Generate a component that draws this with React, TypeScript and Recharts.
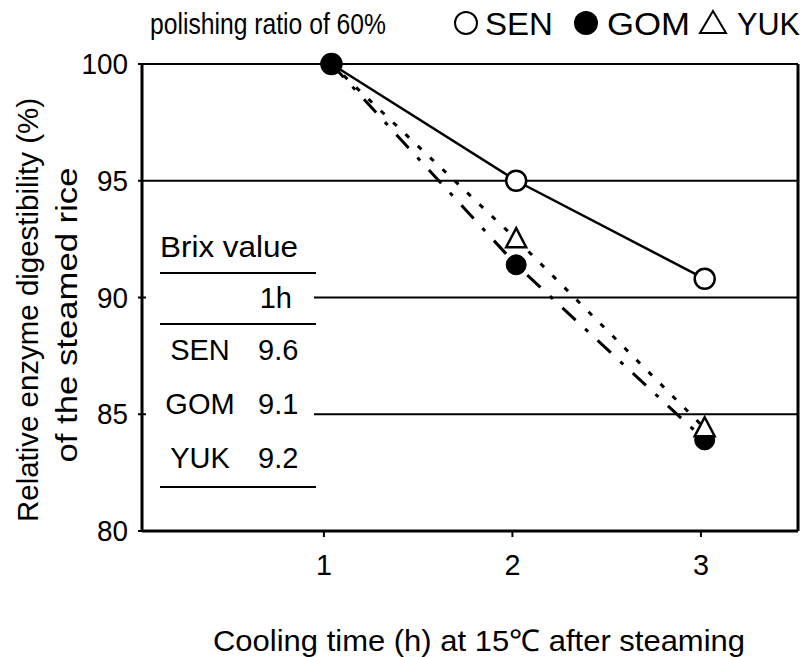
import { LineChart, Line, XAxis, YAxis, CartesianGrid, ReferenceLine } from "recharts";

// cooling time (h); markers sit a little right of the ticks in the original
const hours = [1.04, 2.02, 3.02];
const senValues = [100, 95.0, 90.8];
const gomValues = [100, 91.4, 83.9];
const yukValues = [100, 92.5, 84.4];

const xTicks = [1, 2, 3];
const yTicks = [80, 85, 90, 95, 100];

const brixRows = [
  { name: "SEN", value: "9.6" },
  { name: "GOM", value: "9.1" },
  { name: "YUK", value: "9.2" },
];

const data = hours.map((h, i) => ({
  h,
  sen: senValues[i],
  gom: gomValues[i],
  yuk: yukValues[i],
}));

const FONT = '"Liberation Sans", Arial, sans-serif';

const OpenCircle = (p: any) => (
  <circle key={`s${p.index}`} cx={p.cx} cy={p.cy} r={10} fill="#fff" stroke="#000" strokeWidth={2.5} />
);
const FilledCircle = (p: any) => (
  <circle key={`g${p.index}`} cx={p.cx} cy={p.cy} r={10} fill="#000" stroke="#000" strokeWidth={1} />
);
const Triangle = (p: any) => {
  // first YUK point is hidden under the GOM marker in the original
  if (p.index === 0) return <g key={`y${p.index}`} />;
  const { cx, cy } = p;
  return (
    <path
      key={`y${p.index}`}
      d={`M${cx},${cy - 11} L${cx + 10},${cy + 8} L${cx - 10},${cy + 8} Z`}
      fill="#fff"
      stroke="#000"
      strokeWidth={2.5}
    />
  );
};

// the original's lettering is a bit taller than Liberation Sans at the same width
const XTick = (p: any) => (
  <text x={p.x} y={p.y + 22} fontSize={30} textLength={16} lengthAdjust="spacingAndGlyphs" textAnchor="middle" fill="#000">
    {p.payload.value}
  </text>
);
const YTick = (p: any) => {
  const s = String(p.payload.value);
  return (
    <text x={p.x} y={p.y + 10} fontSize={29} textLength={s.length * 15.5} lengthAdjust="spacingAndGlyphs" textAnchor="end" fill="#000">
      {s}
    </text>
  );
};

const YLabel = () => (
  <g fontSize={30} fill="#000">
    <text x={38} y={310} transform="rotate(-90 38 310)" textAnchor="middle" textLength={424} lengthAdjust="spacingAndGlyphs">
      Relative enzyme digestibility (%)
    </text>
    <text x={77} y={315} transform="rotate(-90 77 315)" textAnchor="middle" textLength={295} lengthAdjust="spacingAndGlyphs">
      of the steamed rice
    </text>
  </g>
);

export default function App() {
  return (
    <div
      style={{
        position: "absolute",
        left: 0,
        top: 0,
        width: 807,
        height: 657,
        background: "#fff",
        fontFamily: FONT,
      }}
    >
      <LineChart
        width={807}
        height={657}
        data={data}
        margin={{ top: 64, right: 9, bottom: 66, left: 0 }}
      >
        <CartesianGrid vertical={false} stroke="#000" strokeWidth={2} />
        <XAxis
          dataKey="h"
          type="number"
          domain={[0.035, 3.515]}
          allowDataOverflow
          ticks={xTicks}
          height={60}
          tickSize={6}
          tickMargin={16}
          axisLine={{ stroke: "#000", strokeWidth: 3 }}
          tickLine={{ stroke: "#000", strokeWidth: 2 }}
          tick={XTick}
        />
        <YAxis
          type="number"
          domain={[80, 100]}
          ticks={yTicks}
          width={142}
          tickSize={4}
          tickMargin={10}
          axisLine={{ stroke: "#000", strokeWidth: 3 }}
          tickLine={{ stroke: "#000", strokeWidth: 2 }}
          tick={YTick}
          label={<YLabel />}
        />
        <ReferenceLine x={3.515} stroke="#000" strokeWidth={3} />
        <Line
          dataKey="sen"
          stroke="#000"
          strokeWidth={2.5}
          dot={OpenCircle}
          isAnimationActive={false}
        />
        <Line
          dataKey="gom"
          stroke="#000"
          strokeWidth={3}
          strokeDasharray="18 13 4 13"
          dot={FilledCircle}
          isAnimationActive={false}
        />
        <Line
          dataKey="yuk"
          stroke="#000"
          strokeWidth={3}
          strokeDasharray="5 12"
          dot={Triangle}
          isAnimationActive={false}
        />
      </LineChart>

      {/* title, legend, brix table and x title */}
      <svg
        width={807}
        height={657}
        style={{ position: "absolute", left: 0, top: 0, pointerEvents: "none" }}
      >
        <g fill="#000">
          <text x={150} y={34} fontSize={29} textLength={236} lengthAdjust="spacingAndGlyphs">
            polishing ratio of 60%
          </text>
          <circle cx={466} cy={23} r={11} fill="#fff" stroke="#000" strokeWidth={2} />
          <text x={485} y={35} fontSize={31} textLength={68} lengthAdjust="spacingAndGlyphs">SEN</text>
          <circle cx={586} cy={23} r={12} fill="#000" />
          <text x={607} y={35} fontSize={31} textLength={83} lengthAdjust="spacingAndGlyphs">GOM</text>
          <path d="M713,11 L726,33 L700,33 Z" fill="#fff" stroke="#000" strokeWidth={2} />
          <text x={737} y={35} fontSize={31} textLength={63} lengthAdjust="spacingAndGlyphs">YUK</text>
        </g>

        <rect x={146} y={225} width={168} height={270} fill="#fff" />
        <g fontSize={29} fill="#000">
          <text x={160} y={257} textLength={138} lengthAdjust="spacingAndGlyphs">Brix value</text>
          <line x1={160} x2={316} y1={273} y2={273} stroke="#000" strokeWidth={2} />
          <text x={292} y={308} textAnchor="end">1h</text>
          <line x1={160} x2={316} y1={324} y2={324} stroke="#000" strokeWidth={2} />
          {brixRows.map((r, i) => (
            <g key={r.name}>
              <text x={200} y={360 + i * 54} textAnchor="middle">{r.name}</text>
              <text x={258} y={360 + i * 54}>{r.value}</text>
            </g>
          ))}
          <line x1={160} x2={316} y1={487} y2={487} stroke="#000" strokeWidth={2} />
        </g>

        <text x={479} y={651} fontSize={30} fill="#000" textAnchor="middle" textLength={532} lengthAdjust="spacingAndGlyphs">
          Cooling time (h) at 15℃ after steaming
        </text>
      </svg>
    </div>
  );
}
